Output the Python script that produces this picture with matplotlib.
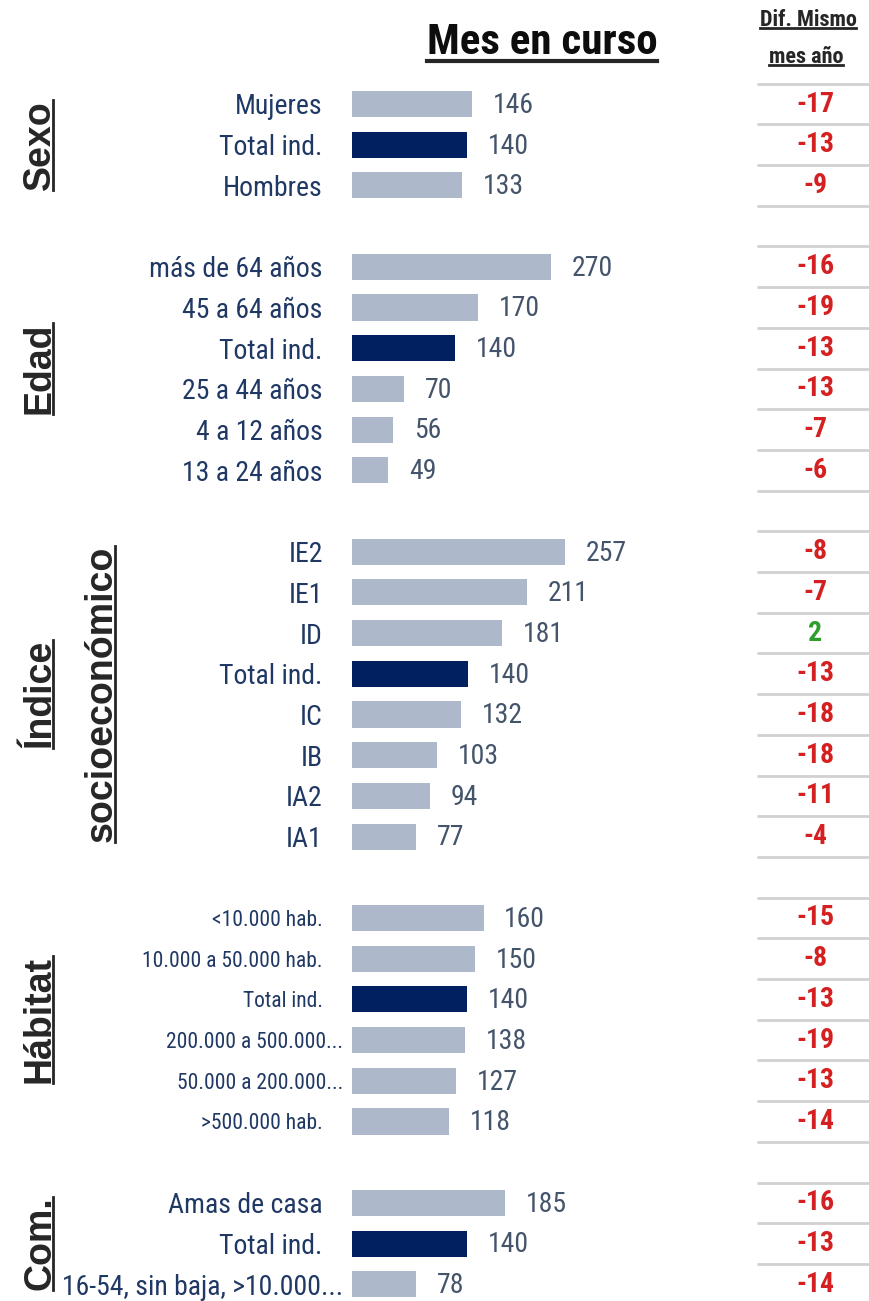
import matplotlib
matplotlib.use('Agg')
import matplotlib.pyplot as plt
from matplotlib import font_manager
from matplotlib.transforms import (blended_transform_factory, IdentityTransform,
                                   ScaledTranslation)
from matplotlib.lines import Line2D

# data
sexo_labels = ['Mujeres', 'Total ind.', 'Hombres']
sexo_values = [146, 140, 133]
sexo_diff = [-17, -13, -9]

edad_labels = ['más de 64 años', '45 a 64 años', 'Total ind.', '25 a 44 años',
               '4 a 12 años', '13 a 24 años']
edad_values = [270, 170, 140, 70, 56, 49]
edad_diff = [-16, -19, -13, -13, -7, -6]

indice_labels = ['IE2', 'IE1', 'ID', 'Total ind.', 'IC', 'IB', 'IA2', 'IA1']
indice_values = [257, 211, 181, 140, 132, 103, 94, 77]
indice_diff = [-8, -7, 2, -13, -18, -18, -11, -4]

habitat_labels = ['<10.000 hab.', '10.000 a 50.000 hab.', 'Total ind.',
                  '200.000 a 500.000...', '50.000 a 200.000...', '>500.000 hab.']
habitat_values = [160, 150, 140, 138, 127, 118]
habitat_diff = [-15, -8, -13, -19, -13, -14]

com_labels = ['Amas de casa', 'Total ind.', '16-54, sin baja, >10.000...']
com_values = [185, 140, 78]
com_diff = [-16, -13, -14]


def pick_font(names):
    for n in names:
        try:
            font_manager.findfont(font_manager.FontProperties(family=n),
                                  fallback_to_default=False)
            return n
        except ValueError:
            continue
    return 'DejaVu Sans'


NARROW = pick_font(['Liberation Sans Narrow', 'Roboto Condensed', 'Liberation Sans'])
ARIAL = pick_font(['Liberation Sans', 'DejaVu Sans'])

BAR_GREY = '#ADB9CA'
BAR_TOTAL = '#002060'
LABEL_COL = '#203864'
VALUE_COL = '#44546A'
RED = '#D42020'
GREEN = '#2E9E2E'
SEP_COL = '#D0D0D0'

W, H = 869, 1301
ROW = 40.7          # px per row
FIRST = 104         # px, centre of first row
BAR_LEFT = 352      # px
COL_LEFT = 757      # px, start of right column

sections = [
    (['Sexo'], sexo_labels, sexo_values, sexo_diff, 627, 20),
    (['Edad'], edad_labels, edad_values, edad_diff, 700, 20),
    (['Índice', 'socioeconómico'], indice_labels, indice_values, indice_diff, 624, 20),
    (['Hábitat'], habitat_labels, habitat_values, habitat_diff, 629, 15.5),
    (['Com.'], com_labels, com_values, com_diff, 627, 20),
]

fig = plt.figure(figsize=(W / 100, H / 100), dpi=100)

titles = []
row0 = 0
for title, labels, values, diffs, xmax, lab_fs in sections:
    n = len(labels)
    top_px = FIRST + row0 * ROW - ROW / 2
    ax = fig.add_axes([BAR_LEFT / W, 1 - (top_px + n * ROW) / H,
                       (W - BAR_LEFT) / W, n * ROW / H])
    colors = [BAR_TOTAL if l.startswith('Total') else BAR_GREY for l in labels]
    ypos = list(range(n))
    ax.barh(ypos, values, height=0.64, color=colors)
    for y, v in zip(ypos, values):
        ax.annotate(str(v), (v, y), xytext=(15, -1), textcoords='offset points',
                    ha='left', va='center', fontsize=20, color=VALUE_COL,
                    family=NARROW)
    ax.set_xlim(0, xmax)
    ax.set_ylim(n - 0.5, -0.5)
    ax.set_yticks(ypos)
    ax.set_yticklabels(labels, fontsize=lab_fs, color=LABEL_COL, family=NARROW)
    ax.tick_params(axis='y', length=0, pad=21)
    # truncated labels sit closer to the bar
    for tl in ax.get_yticklabels():
        if tl.get_text().endswith('...'):
            tl.set_transform(tl.get_transform() +
                             ScaledTranslation(0.2, 0, fig.dpi_scale_trans))
    ax.set_xticks([])
    for s in ax.spines.values():
        s.set_visible(False)
    ax.patch.set_alpha(0)

    # right column: year-on-year difference
    xf = (COL_LEFT - BAR_LEFT) / (W - BAR_LEFT)
    tr = ax.get_yaxis_transform()
    ax.hlines([y - 0.5 for y in ypos] + [n - 0.5], xf, 1.0, transform=tr,
              color=SEP_COL, lw=2, clip_on=False)
    xc = xf + (1 - xf) * 0.52
    for y, d in zip(ypos, diffs):
        ax.text(xc, y, f'{d}', transform=tr, ha='center', va='center',
                fontsize=20, fontweight='bold', color=GREEN if d > 0 else RED,
                family=NARROW)

    # rotated section title
    ttr = blended_transform_factory(fig.transFigure, ax.transAxes)
    for k, line in enumerate(title):
        t = fig.text((40 + 62 * k) / W, 0.5, line, transform=ttr, rotation=90,
                     ha='center', va='center', fontsize=27, fontweight='bold',
                     color='#262626', family=ARIAL)
        titles.append(('v', t, 2))
    row0 += n + 1

t = fig.text(542 / W, 1 - 43 / H, 'Mes en curso', ha='center', va='center',
             fontsize=31, fontweight='bold', color='#0D0D0D', family=NARROW)
titles.append(('h', t, 3))
t = fig.text(808 / W, 1 - 20 / H, 'Dif. Mismo', ha='center', va='center',
             fontsize=16, fontweight='bold', color='#262626', family=NARROW)
titles.append(('h', t, 2))
t = fig.text(806 / W, 1 - 57 / H, 'mes año', ha='center', va='center',
             fontsize=16, fontweight='bold', color='#262626', family=NARROW)
titles.append(('h', t, 2))

# underline the titles
fig.canvas.draw()
rend = fig.canvas.get_renderer()
for kind, t, lw in titles:
    bb = t.get_window_extent(rend)
    if kind == 'v':
        x = bb.x1 - 5
        ln = Line2D([x, x], [bb.y0, bb.y1], color='#262626', lw=lw,
                    transform=IdentityTransform())
    else:
        y = bb.y0 + 3
        ln = Line2D([bb.x0, bb.x1], [y, y], color='#262626', lw=lw,
                    transform=IdentityTransform())
    fig.add_artist(ln)

fig.savefig('out.png', dpi=100)
